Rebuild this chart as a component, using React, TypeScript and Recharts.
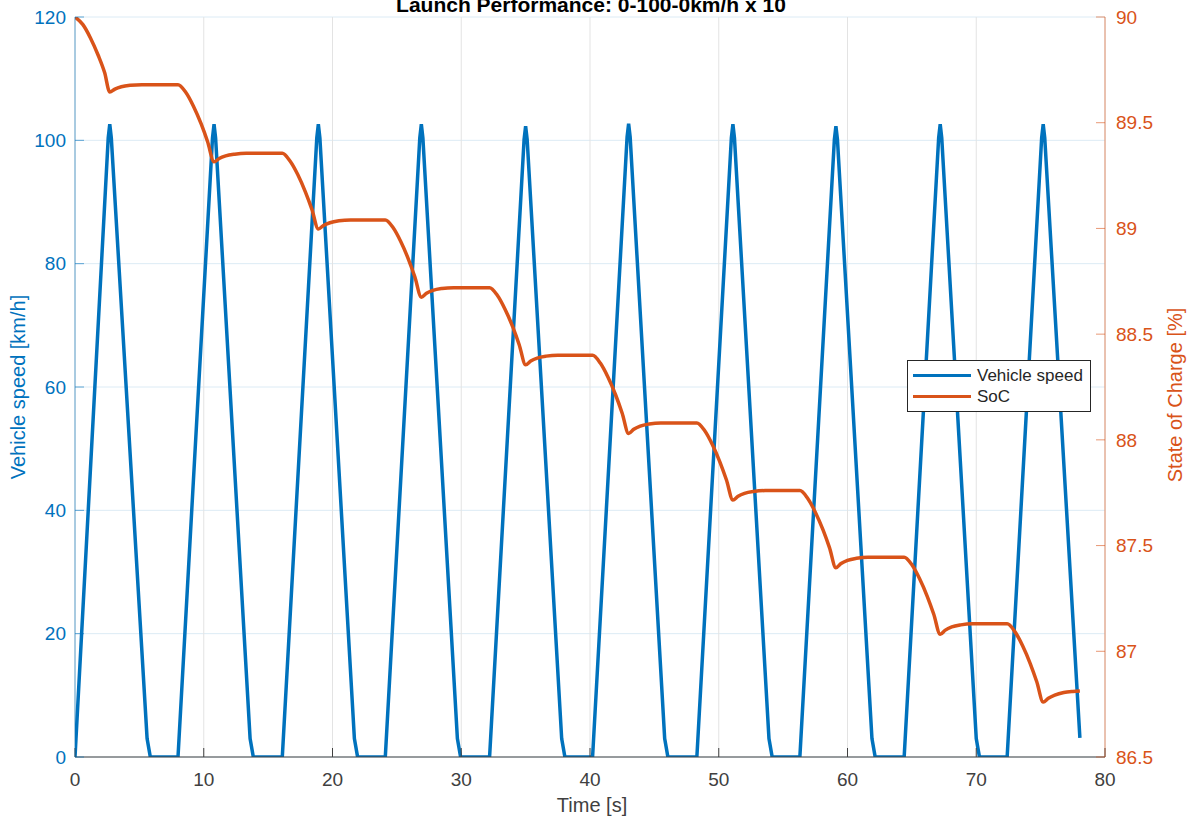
import React from "react";
import {
  LineChart,
  Line,
  XAxis,
  YAxis,
  CartesianGrid,
  Legend,
} from "recharts";

const TITLE = "Launch Performance: 0-100-0km/h x 10";
const X_LABEL = "Time [s]";
const Y_LEFT_LABEL = "Vehicle speed [km/h]";
const Y_RIGHT_LABEL = "State of Charge [%]";

const xTicks = [0, 10, 20, 30, 40, 50, 60, 70, 80];
const speedTicks = [0, 20, 40, 60, 80, 100, 120];
const socTicks = [86.5, 87, 87.5, 88, 88.5, 89, 89.5, 90];

// Vehicle speed [km/h] vs time [s]
const speedTime = [
  0, 2.58, 2.7, 2.82, 5.6, 5.85, 8.0,
  10.68, 10.8, 10.92, 13.6, 13.85, 16.1,
  18.78, 18.9, 19.02, 21.7, 21.95, 24.1,
  26.78, 26.9, 27.02, 29.7, 29.95, 32.2,
  34.88, 35.0, 35.12, 37.8, 38.05, 40.2,
  42.88, 43.0, 43.12, 45.8, 46.05, 48.3,
  50.98, 51.1, 51.22, 53.9, 54.15, 56.3,
  58.98, 59.1, 59.22, 61.9, 62.15, 64.4,
  67.08, 67.2, 67.32, 70.0, 70.25, 72.4,
  75.08, 75.2, 75.32, 78.05,
];
const speedValue = [
  0, 100.4, 102.6, 100.4, 3, 0, 0,
  100.4, 102.6, 100.4, 3, 0, 0,
  100.4, 102.6, 100.4, 3, 0, 0,
  100.4, 102.6, 100.4, 3, 0, 0,
  100.1, 102.3, 100.1, 3, 0, 0,
  100.5, 102.7, 100.5, 3, 0, 0,
  100.4, 102.6, 100.4, 3, 0, 0,
  100.1, 102.3, 100.1, 3, 0, 0,
  100.4, 102.6, 100.4, 3, 0, 0,
  100.4, 102.6, 100.4, 3.1,
];

// State of charge [%] vs time [s]
const socTime = [
  0, 0.6, 1.2, 1.8, 2.3, 2.7, 3.1, 3.6, 4.3, 5.2,
  8.0, 8.6, 9.2, 9.8, 10.3, 10.8, 11.2, 11.7, 12.4, 13.3,
  16.1, 16.7, 17.3, 17.9, 18.4, 18.9, 19.3, 19.8, 20.5, 21.4,
  24.1, 24.7, 25.3, 25.9, 26.4, 26.9, 27.3, 27.8, 28.5, 29.4,
  32.2, 32.8, 33.4, 34.0, 34.5, 35.0, 35.4, 35.9, 36.6, 37.5,
  40.2, 40.8, 41.4, 42.0, 42.5, 43.0, 43.4, 43.9, 44.6, 45.5,
  48.3, 48.9, 49.5, 50.1, 50.6, 51.1, 51.5, 52.0, 52.7, 53.6,
  56.3, 56.9, 57.5, 58.1, 58.6, 59.1, 59.5, 60.0, 60.7, 61.6,
  64.4, 65.0, 65.6, 66.2, 66.7, 67.2, 67.6, 68.1, 68.8, 69.7,
  72.4, 73.0, 73.6, 74.2, 74.7, 75.2, 75.6, 76.1, 76.8, 77.5, 78.05,
];
const socValue = [
  90.0, 89.965, 89.901, 89.819, 89.737, 89.645, 89.659, 89.67, 89.677, 89.68,
  89.68, 89.644, 89.578, 89.494, 89.41, 89.315, 89.331, 89.343, 89.351, 89.355,
  89.355, 89.319, 89.255, 89.172, 89.09, 88.997, 89.014, 89.027, 89.036, 89.04,
  89.04, 89.004, 88.938, 88.854, 88.77, 88.675, 88.693, 88.707, 88.716, 88.72,
  88.72, 88.684, 88.618, 88.534, 88.45, 88.355, 88.373, 88.387, 88.396, 88.4,
  88.4, 88.363, 88.296, 88.211, 88.126, 88.03, 88.05, 88.065, 88.075, 88.08,
  88.08, 88.044, 87.978, 87.894, 87.81, 87.715, 87.733, 87.747, 87.756, 87.76,
  87.76, 87.724, 87.658, 87.574, 87.49, 87.395, 87.415, 87.43, 87.44, 87.445,
  87.445, 87.409, 87.343, 87.259, 87.175, 87.08, 87.1, 87.115, 87.125, 87.13,
  87.13, 87.093, 87.026, 86.941, 86.856, 86.76, 86.778, 86.793, 86.805, 86.81, 86.812,
];

const speedData = speedTime.map((t, i) => ({ t, speed: speedValue[i] }));
const socData = socTime.map((t, i) => ({ t, soc: socValue[i] }));

const BLUE = "#0072BD";
const ORANGE = "#D95319";
const FONT = "'Liberation Sans', Arial, Helvetica, sans-serif";

const W = 1188;
const H = 819;

const LegendBox = () => (
  <div
    style={{
      width: 184,
      height: 52,
      boxSizing: "border-box",
      border: "1px solid #262626",
      background: "#fff",
      fontFamily: FONT,
      fontSize: 17,
      color: "#262626",
      padding: "4px 0 0 5px",
    }}
  >
    {[
      { name: "Vehicle speed", color: BLUE },
      { name: "SoC", color: ORANGE },
    ].map((e) => (
      <div key={e.name} style={{ display: "flex", alignItems: "center", height: 21 }}>
        <div style={{ width: 58, height: 3.5, background: e.color, marginRight: 6 }} />
        <span>{e.name}</span>
      </div>
    ))}
  </div>
);

export default function App() {
  return (
    <div style={{ position: "absolute", left: 0, top: 0, width: W, height: H, background: "#fff" }}>
      <LineChart
        width={W}
        height={H}
        margin={{ top: 17, right: 0, bottom: 0, left: 0 }}
        style={{ fontFamily: FONT }}
      >
        <CartesianGrid
          yAxisId="left"
          xAxisId="x"
          vertical={false}
          stroke="#dcebf5"
          strokeWidth={1}
        />
        <CartesianGrid
          yAxisId="left"
          xAxisId="x"
          horizontal={false}
          stroke="#e3e3e3"
          strokeWidth={1}
        />
        <XAxis
          xAxisId="x"
          dataKey="t"
          type="number"
          domain={[0, 80]}
          ticks={xTicks}
          allowDataOverflow
          height={62}
          tickSize={-9}
          tickMargin={25}
          tick={{ fill: "#404040", fontSize: 19, fontFamily: FONT }}
          axisLine={{ stroke: "#404040" }}
          tickLine={{ stroke: "#404040" }}
        />
        <YAxis
          yAxisId="left"
          orientation="left"
          type="number"
          domain={[0, 120]}
          ticks={speedTicks}
          allowDataOverflow
          width={75}
          tickSize={-9}
          tickMargin={18}
          tick={{ fill: BLUE, fontSize: 19, fontFamily: FONT }}
          axisLine={{ stroke: BLUE, strokeOpacity: 0.6 }}
          tickLine={{ stroke: BLUE, strokeOpacity: 0.6 }}
        />
        <YAxis
          yAxisId="right"
          orientation="right"
          type="number"
          domain={[86.5, 90]}
          ticks={socTicks}
          allowDataOverflow
          width={83}
          tickSize={-9}
          tickMargin={20}
          tick={{ fill: ORANGE, fontSize: 19, fontFamily: FONT }}
          axisLine={{ stroke: ORANGE, strokeOpacity: 0.6 }}
          tickLine={{ stroke: ORANGE, strokeOpacity: 0.6 }}
        />
        <Line
          xAxisId="x"
          yAxisId="left"
          data={speedData}
          dataKey="speed"
          name="Vehicle speed"
          type="linear"
          stroke={BLUE}
          strokeWidth={3.5}
          dot={false}
          activeDot={false}
          isAnimationActive={false}
        />
        <Line
          xAxisId="x"
          yAxisId="right"
          data={socData}
          dataKey="soc"
          name="SoC"
          type="monotone"
          stroke={ORANGE}
          strokeWidth={3.5}
          dot={false}
          activeDot={false}
          isAnimationActive={false}
        />
        <Legend
          layout="horizontal"
          verticalAlign="middle"
          align="center"
          content={() => <LegendBox />}
          wrapperStyle={{ left: 907, top: 360, width: 184, height: 52 }}
        />
      </LineChart>
      <svg
        width={W}
        height={H}
        style={{ position: "absolute", left: 0, top: 0, pointerEvents: "none" }}
      >
        <text
          x={591}
          y={12}
          textAnchor="middle"
          fontFamily={FONT}
          fontWeight="bold"
          fontSize={21}
          fill="#000"
        >
          {TITLE}
        </text>
        <text
          x={592}
          y={812}
          textAnchor="middle"
          fontFamily={FONT}
          fontSize={20}
          fill="#404040"
        >
          {X_LABEL}
        </text>
        <text
          transform="translate(25,387) rotate(-90)"
          textAnchor="middle"
          fontFamily={FONT}
          fontSize={20}
          fill={BLUE}
        >
          {Y_LEFT_LABEL}
        </text>
        <text
          transform="translate(1182,395) rotate(-90)"
          textAnchor="middle"
          fontFamily={FONT}
          fontSize={20}
          fill={ORANGE}
        >
          {Y_RIGHT_LABEL}
        </text>
      </svg>
    </div>
  );
}
